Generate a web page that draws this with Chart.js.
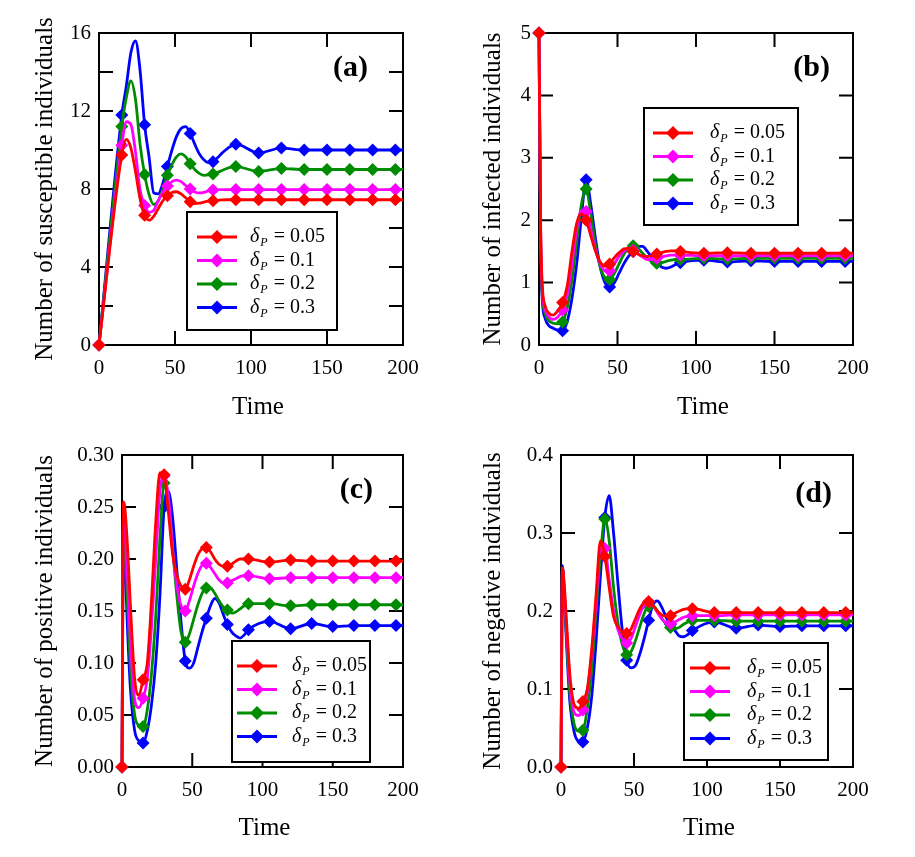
<!DOCTYPE html>
<html>
<head>
<meta charset="utf-8">
<script src="https://cdn.jsdelivr.net/npm/chart.js@4.4.1/dist/chart.umd.min.js"></script>
<style>
  body { margin: 0; background: #fff; }
  #wrap { position: relative; width: 915px; height: 857px; }
  canvas { position: absolute; }
</style>
</head>
<body>
<div id="wrap">
  <canvas id="chart-a" width="440" height="430" style="left:0;top:0"></canvas>
  <canvas id="chart-b" width="475" height="430" style="left:440px;top:0"></canvas>
  <canvas id="chart-c" width="440" height="427" style="left:0;top:430px"></canvas>
  <canvas id="chart-d" width="475" height="427" style="left:440px;top:430px"></canvas>
</div>
<script>
// delta_P values of the four runs
const deltaValues = ["0.05", "0.1", "0.2", "0.3"];
const seriesColors = ["#ff0000", "#ff00ff", "#008c00", "#0000ff"];

// time points
const timeA = [0, 15, 18, 21, 24, 27, 30, 33, 36, 39, 42, 45, 48, 51, 54, 57, 60, 63, 66, 69, 72, 75, 78, 81, 84, 87, 90, 105, 120, 135, 150, 165, 180, 195, 200];
// time points (b), (c), (d)
const timeBCD = [0, 1, 2, 4, 6, 9, 12, 15, 18, 21, 24, 27, 30, 33, 36, 39, 42, 45, 48, 51, 54, 57, 60, 63, 66, 69, 72, 75, 78, 81, 84, 87, 90, 105, 120, 135, 150, 165, 180, 195, 200];

// (a) susceptible
const susRed = [0, 9.75, 10.55, 10.1, 8.9, 7.5, 6.65, 6.4, 6.6, 7.0, 7.4, 7.65, 7.82, 7.86, 7.75, 7.55, 7.35, 7.25, 7.27, 7.33, 7.38, 7.4, 7.42, 7.44, 7.45, 7.45, 7.45, 7.45, 7.45, 7.45, 7.45, 7.45, 7.45, 7.45, 7.45];
const susMagenta = [0, 10.25, 11.45, 11.3, 9.9, 7.95, 7.15, 6.8, 6.9, 7.4, 7.85, 8.15, 8.38, 8.46, 8.38, 8.18, 8.0, 7.85, 7.8, 7.83, 7.9, 7.95, 7.96, 7.97, 7.97, 7.97, 7.97, 7.97, 7.97, 7.97, 7.97, 7.97, 7.97, 7.97, 7.97];
const susGreen = [0, 11.2, 12.7, 13.55, 12.6, 10.3, 8.75, 7.7, 7.2, 7.4, 8.0, 8.7, 9.25, 9.65, 9.8, 9.65, 9.3, 9.0, 8.8, 8.7, 8.72, 8.77, 8.85, 8.95, 9.05, 9.12, 9.15, 8.9, 9.05, 9.0, 9.0, 9.0, 9.0, 9.0, 9.0];
const susBlue = [0, 11.8, 13.3, 15.0, 15.6, 14.1, 11.3, 9.6, 7.8, 7.75, 8.3, 9.15, 10.0, 10.7, 11.1, 11.2, 10.85, 10.3, 9.8, 9.5, 9.35, 9.4, 9.6, 9.85, 10.05, 10.2, 10.3, 9.85, 10.1, 10.0, 10.0, 10.0, 10.0, 10.0, 10.0];

// (b) infected
const infRed = [5, 2.0, 1.0, 0.62, 0.52, 0.48, 0.55, 0.68, 0.95, 1.5, 1.95, 2.1, 2.0, 1.75, 1.5, 1.33, 1.26, 1.3, 1.4, 1.48, 1.54, 1.55, 1.5, 1.46, 1.43, 1.42, 1.43, 1.46, 1.48, 1.5, 1.51, 1.51, 1.5, 1.47, 1.48, 1.47, 1.47, 1.47, 1.47, 1.47, 1.47];
const infMagenta = [5, 1.9, 0.92, 0.56, 0.46, 0.41, 0.45, 0.56, 0.8, 1.3, 1.85, 2.15, 2.14, 1.85, 1.52, 1.3, 1.19, 1.19, 1.3, 1.42, 1.5, 1.55, 1.52, 1.46, 1.41, 1.37, 1.37, 1.39, 1.41, 1.43, 1.44, 1.44, 1.44, 1.43, 1.43, 1.43, 1.43, 1.43, 1.43, 1.43, 1.43];
const infGreen = [5, 1.8, 0.86, 0.5, 0.4, 0.35, 0.34, 0.37, 0.6, 1.05, 1.65, 2.25, 2.5, 2.1, 1.6, 1.25, 1.08, 1.05, 1.15, 1.3, 1.45, 1.56, 1.59, 1.55, 1.47, 1.39, 1.33, 1.31, 1.32, 1.34, 1.36, 1.37, 1.37, 1.39, 1.38, 1.39, 1.39, 1.39, 1.39, 1.39, 1.39];
const infBlue = [5, 1.7, 0.76, 0.42, 0.32, 0.27, 0.24, 0.23, 0.38, 0.75, 1.3, 2.05, 2.65, 2.25, 1.7, 1.25, 1.0, 0.93, 1.0, 1.15, 1.3, 1.42, 1.5, 1.58, 1.58, 1.5, 1.4, 1.32, 1.25, 1.23, 1.25, 1.29, 1.32, 1.36, 1.33, 1.35, 1.34, 1.34, 1.34, 1.34, 1.34];

// (c) positive
const posRed = [0, 0.255, 0.25, 0.21, 0.155, 0.085, 0.069, 0.084, 0.1, 0.16, 0.235, 0.283, 0.281, 0.245, 0.205, 0.185, 0.174, 0.171, 0.18, 0.193, 0.204, 0.21, 0.211, 0.207, 0.2, 0.195, 0.193, 0.193, 0.195, 0.198, 0.2, 0.2, 0.2, 0.197, 0.199, 0.198, 0.198, 0.198, 0.198, 0.198, 0.198];
const posMagenta = [0, 0.242, 0.235, 0.18, 0.12, 0.065, 0.057, 0.066, 0.085, 0.135, 0.2, 0.265, 0.28, 0.26, 0.21, 0.175, 0.155, 0.15, 0.16, 0.174, 0.186, 0.194, 0.196, 0.192, 0.186, 0.18, 0.177, 0.177, 0.179, 0.181, 0.183, 0.184, 0.184, 0.181, 0.182, 0.182, 0.182, 0.182, 0.182, 0.182, 0.182];
const posGreen = [0, 0.232, 0.22, 0.155, 0.095, 0.05, 0.04, 0.039, 0.055, 0.09, 0.145, 0.22, 0.273, 0.255, 0.21, 0.165, 0.13, 0.12, 0.128, 0.142, 0.156, 0.167, 0.172, 0.172, 0.167, 0.16, 0.154, 0.151, 0.148, 0.149, 0.152, 0.155, 0.157, 0.157, 0.155, 0.156, 0.156, 0.156, 0.156, 0.156, 0.156];
const posBlue = [0, 0.22, 0.2, 0.13, 0.075, 0.035, 0.025, 0.023, 0.035, 0.06, 0.1, 0.165, 0.25, 0.265, 0.24, 0.19, 0.14, 0.102, 0.095, 0.1, 0.115, 0.13, 0.143, 0.155, 0.162, 0.158, 0.147, 0.137, 0.13, 0.126, 0.124, 0.127, 0.132, 0.14, 0.133, 0.138, 0.135, 0.136, 0.136, 0.136, 0.136];

// (d) negative
const negRed = [0, 0.255, 0.24, 0.18, 0.12, 0.08, 0.075, 0.084, 0.1, 0.15, 0.22, 0.29, 0.27, 0.23, 0.193, 0.18, 0.174, 0.171, 0.177, 0.19, 0.203, 0.211, 0.212, 0.207, 0.2, 0.195, 0.193, 0.194, 0.197, 0.2, 0.202, 0.203, 0.203, 0.198, 0.198, 0.198, 0.198, 0.198, 0.198, 0.198, 0.198];
const negMagenta = [0, 0.255, 0.235, 0.17, 0.11, 0.07, 0.066, 0.073, 0.095, 0.145, 0.21, 0.28, 0.28, 0.24, 0.2, 0.176, 0.164, 0.159, 0.165, 0.18, 0.196, 0.207, 0.212, 0.207, 0.198, 0.19, 0.185, 0.184, 0.186, 0.189, 0.192, 0.193, 0.194, 0.194, 0.195, 0.195, 0.195, 0.195, 0.195, 0.195, 0.195];
const negGreen = [0, 0.255, 0.23, 0.16, 0.095, 0.055, 0.046, 0.047, 0.075, 0.125, 0.2, 0.27, 0.318, 0.29, 0.23, 0.185, 0.157, 0.144, 0.148, 0.162, 0.18, 0.197, 0.206, 0.207, 0.2, 0.191, 0.183, 0.179, 0.177, 0.179, 0.183, 0.186, 0.188, 0.188, 0.187, 0.187, 0.187, 0.187, 0.187, 0.187, 0.187];
const negBlue = [0, 0.258, 0.225, 0.15, 0.085, 0.045, 0.033, 0.032, 0.05, 0.09, 0.16, 0.245, 0.32, 0.348, 0.3, 0.235, 0.175, 0.137, 0.127, 0.13, 0.145, 0.165, 0.188, 0.208, 0.213, 0.205, 0.192, 0.183, 0.175, 0.168, 0.167, 0.17, 0.175, 0.186, 0.178, 0.182, 0.18, 0.181, 0.181, 0.181, 0.181];

const serif = "'Liberation Serif', 'Times New Roman', serif";

function isMarker(t) {
  return t % 15 === 0 && t <= 195;
}

// box, inward ticks, x title, panel letter and legend
const framePlugin = {
  id: "frame",
  beforeDatasetsDraw(chart) {
    const { ctx, chartArea: a, scales } = chart;
    ctx.save();
    ctx.strokeStyle = "#000";
    ctx.lineWidth = 2;
    ctx.strokeRect(a.left, a.top, a.right - a.left, a.bottom - a.top);
    const len = 14;
    ctx.beginPath();
    for (const t of scales.x.ticks) {
      const px = scales.x.getPixelForValue(t.value);
      ctx.moveTo(px, a.bottom); ctx.lineTo(px, a.bottom - len);
      ctx.moveTo(px, a.top); ctx.lineTo(px, a.top + len);
    }
    for (const t of scales.y.ticks) {
      const py = scales.y.getPixelForValue(t.value);
      ctx.moveTo(a.left, py); ctx.lineTo(a.left + len, py);
      ctx.moveTo(a.right, py); ctx.lineTo(a.right - len, py);
    }
    ctx.stroke();
    ctx.restore();
  },
  afterDatasetsDraw(chart, args, opts) {
    const { ctx, chartArea: a } = chart;
    ctx.save();
    ctx.fillStyle = "#000";
    ctx.textBaseline = "middle";

    // x axis title
    ctx.font = "25px " + serif;
    ctx.textAlign = "center";
    ctx.fillText("Time", (a.left + a.right) / 2 + opts.timeShift, opts.timeY);

    // panel letter
    ctx.font = "bold 30px " + serif;
    ctx.textAlign = "right";
    ctx.fillText(opts.letter, opts.letterX, opts.letterY);

    // legend
    const b = opts.box;
    ctx.fillStyle = "#fff";
    ctx.fillRect(b.x, b.y, b.w, b.h);
    ctx.strokeStyle = "#000";
    ctx.lineWidth = 2;
    ctx.strokeRect(b.x, b.y, b.w, b.h);
    chart.data.datasets.forEach((ds, k) => {
      const y = b.y + 25 + k * 23.5;
      ctx.strokeStyle = ds.borderColor;
      ctx.lineWidth = 3;
      ctx.beginPath();
      ctx.moveTo(b.x + b.line, y); ctx.lineTo(b.x + b.line + 40, y);
      ctx.stroke();
      const cx = b.x + b.line + 20;
      ctx.fillStyle = ds.borderColor;
      ctx.beginPath();
      ctx.moveTo(cx - 7, y); ctx.lineTo(cx, y - 7);
      ctx.lineTo(cx + 7, y); ctx.lineTo(cx, y + 7);
      ctx.closePath();
      ctx.fill();

      ctx.fillStyle = "#000";
      ctx.textAlign = "left";
      let x = b.x + b.text;
      ctx.font = "italic 20px " + serif;
      ctx.fillText("\u03b4", x, y);
      x += ctx.measureText("\u03b4").width;
      ctx.font = "italic 12px " + serif;
      ctx.fillText("P", x + 1, y + 6);
      x += ctx.measureText("P").width + 7;
      ctx.font = "20px " + serif;
      ctx.fillText("= " + deltaValues[k], x, y);
    });
    ctx.restore();
  }
};

function makeChart(id, p) {
  const canvas = document.getElementById(id);
  const W = canvas.width, H = canvas.height;
  const datasets = p.values.map((vals, k) => ({
    label: "\u03b4P = " + deltaValues[k],
    data: p.times.map((t, i) => ({ x: t, y: vals[i] })),
    borderColor: seriesColors[k],
    backgroundColor: seriesColors[k],
    borderWidth: 2.8,
    pointStyle: "rectRot",
    pointRadius: (c) => (c.raw && isMarker(c.raw.x) ? 6.5 : 0),
    pointBorderWidth: 0,
    cubicInterpolationMode: "monotone",
    clip: false
  }));
  return new Chart(canvas, {
    type: "line",
    data: { datasets },
    plugins: [framePlugin],
    options: {
      responsive: false,
      animation: false,
      events: [],
      layout: { padding: { top: p.area.top, right: W - p.area.right, left: 0, bottom: 0 } },
      plugins: {
        legend: { display: false },
        tooltip: { enabled: false },
        frame: { letter: p.letter, letterX: p.letterX, letterY: p.letterY, box: p.box, timeShift: p.timeShift, timeY: p.timeY }
      },
      scales: {
        x: {
          type: "linear",
          min: 0,
          max: 200,
          ticks: { stepSize: 50, color: "#000", font: { family: serif, size: 21 }, padding: 11, maxRotation: 0 },
          grid: { display: false, drawTicks: false, tickLength: 0 },
          border: { display: false },
          afterFit(s) { s.height = H - p.area.bottom; s.paddingLeft = 0; s.paddingRight = 0; }
        },
        y: {
          min: 0,
          max: p.yMax,
          ticks: { stepSize: p.yStep, color: "#000", font: { family: serif, size: 21 }, padding: 8, callback: p.yLabel },
          grid: { display: false, drawTicks: false, tickLength: 0 },
          border: { display: false },
          title: { display: true, text: p.yTitle, color: "#000", font: { family: serif, size: 25 }, padding: { top: p.yTitlePad, bottom: 0 } },
          afterFit(s) { s.width = p.area.left; s.paddingTop = 0; s.paddingBottom = 0; }
        }
      }
    }
  });
}

makeChart("chart-a", {
  times: timeA,
  values: [susRed, susMagenta, susGreen, susBlue],
  area: { left: 99, top: 33, right: 403, bottom: 345 },
  yMax: 16, yStep: 2,
  yLabel: (v) => (v % 4 === 0 ? String(v) : ""),
  yTitle: "Number of susceptible individuals",
  yTitlePad: 30, timeShift: 7, timeY: 407,
  letter: "(a)", letterX: 368, letterY: 68,
  box: { x: 187, y: 212, w: 150, h: 118, line: 10, text: 63 }
});

makeChart("chart-b", {
  times: timeBCD,
  values: [infRed, infMagenta, infGreen, infBlue],
  area: { left: 99, top: 33, right: 413, bottom: 345 },
  yMax: 5, yStep: 1,
  yLabel: (v) => String(v),
  yTitle: "Number of infected individuals",
  yTitlePad: 38, timeShift: 7, timeY: 407,
  letter: "(b)", letterX: 390, letterY: 68,
  box: { x: 204, y: 108, w: 154, h: 117, line: 9, text: 66 }
});

makeChart("chart-c", {
  times: timeBCD,
  values: [posRed, posMagenta, posGreen, posBlue],
  area: { left: 122, top: 25, right: 403, bottom: 337 },
  yMax: 0.3, yStep: 0.05,
  yLabel: (v) => v.toFixed(2),
  yTitle: "Number of positive individuals",
  yTitlePad: 30, timeShift: 2, timeY: 398,
  letter: "(c)", letterX: 373, letterY: 60,
  box: { x: 232, y: 211, w: 138, h: 121, line: 5, text: 60 }
});

makeChart("chart-d", {
  times: timeBCD,
  values: [negRed, negMagenta, negGreen, negBlue],
  area: { left: 121, top: 25, right: 413, bottom: 337 },
  yMax: 0.4, yStep: 0.1,
  yLabel: (v) => v.toFixed(1),
  yTitle: "Number of negative individuals",
  yTitlePad: 38, timeShift: 2, timeY: 398,
  letter: "(d)", letterX: 392, letterY: 64,
  box: { x: 244, y: 213, w: 144, h: 117, line: 6, text: 63 }
});
</script>
</body>
</html>
